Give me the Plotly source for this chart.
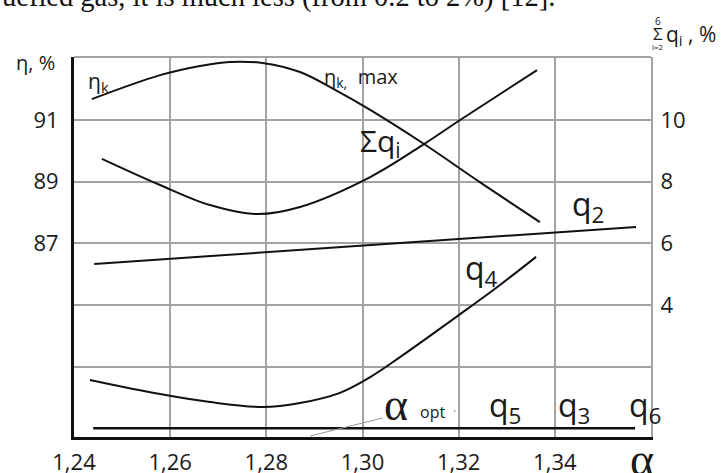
import plotly.graph_objects as go

# alpha (excess air ratio) axis
x_ticks = [1.24, 1.26, 1.28, 1.30, 1.32, 1.34]
x_tick_labels = ["1,24", "1,26", "1,28", "1,30", "1,32", "1,34"]

# left axis: boiler efficiency, %
eta_ticks = [87, 89, 91]
eta_alpha = [1.2437, 1.2579, 1.2662, 1.2724, 1.2795, 1.2870, 1.2943, 1.3016, 1.3128, 1.3244, 1.3369]
eta_k = [91.68, 92.46, 92.76, 92.89, 92.85, 92.56, 91.98, 91.33, 90.22, 88.98, 87.68]

# right axis: heat losses, %
q_ticks = [2, 4, 6, 8, 10]
q_tick_labels = ["", "4", "6", "8", "10"]

sum_q_alpha = [1.2458, 1.2579, 1.2683, 1.2781, 1.2870, 1.3016, 1.3128, 1.3203, 1.3363]
sum_q = [8.74, 7.89, 7.24, 6.95, 7.18, 8.15, 9.22, 10.0, 11.62]

q2_alpha = [1.2442, 1.3569]
q2 = [5.33, 6.53]

q4_alpha = [1.2433, 1.2579, 1.2683, 1.2793, 1.2870, 1.2953, 1.3016, 1.3078, 1.3201, 1.3286, 1.3361]
q4 = [1.57, 1.11, 0.85, 0.69, 0.82, 1.15, 1.66, 2.31, 3.68, 4.65, 5.56]

q356_alpha = [1.2440, 1.3567]
q356 = [0.0, 0.0]

# leader line for alpha_opt
aopt_alpha = [1.2891, 1.3041]
aopt_q = [-0.25, 0.33]

L, R, T, B = 74, 72, 57, 36
W, H = 723, 473
PW, PH = W - L - R, H - T - B


def px(x):
    return (x - L) / PW


def py(y):
    return (H - B - y) / PH


def lab(x, y, text, size, family="Open Sans", xanchor="center", color="#1a1a1a"):
    return dict(
        x=px(x), y=py(y), xref="paper", yref="paper", text=text,
        showarrow=False, xanchor=xanchor, yanchor="middle",
        font=dict(size=size, family=family, color=color),
    )


line = dict(color="#111111", width=2)

fig = go.Figure()
fig.add_trace(go.Scatter(x=eta_alpha, y=eta_k, mode="lines", line=dict(shape="spline", **line),
                         yaxis="y", showlegend=False))
fig.add_trace(go.Scatter(x=sum_q_alpha, y=sum_q, mode="lines", line=dict(shape="spline", **line),
                         yaxis="y2", showlegend=False))
fig.add_trace(go.Scatter(x=q2_alpha, y=q2, mode="lines", line=line, yaxis="y2", showlegend=False))
fig.add_trace(go.Scatter(x=q4_alpha, y=q4, mode="lines", line=dict(shape="spline", **line),
                         yaxis="y2", showlegend=False))
fig.add_trace(go.Scatter(x=q356_alpha, y=q356, mode="lines", line=dict(color="#111111", width=2.5),
                         yaxis="y2", showlegend=False))
fig.add_trace(go.Scatter(x=aopt_alpha, y=aopt_q, mode="lines", line=dict(color="#999999", width=1),
                         yaxis="y2", showlegend=False, cliponaxis=False))

tick_font = dict(size=22, family="Open Sans", color="#1a1a1a")
grid = "#a3a3a3"

fig.update_layout(
    width=W, height=H,
    margin=dict(l=L, r=R, t=T, b=B, autoexpand=False),
    paper_bgcolor="white", plot_bgcolor="white",
    xaxis=dict(
        range=[1.24, 1.36], tickvals=x_ticks, ticktext=x_tick_labels, automargin=False,
        showgrid=True, gridcolor=grid, gridwidth=1.5, zeroline=False,
        showline=True, linecolor="#111111", linewidth=3,
        ticks="outside", ticklen=4, tickcolor="rgba(0,0,0,0)", tickfont=tick_font,
    ),
    yaxis=dict(
        range=[80.69, 93.05], tickvals=eta_ticks, showgrid=False, zeroline=False, automargin=False,
        showline=True, linecolor="#111111", linewidth=3,
        ticks="outside", ticklen=8, tickcolor="rgba(0,0,0,0)", tickfont=tick_font,
    ),
    yaxis2=dict(
        range=[-0.282, 12.043], tickvals=q_ticks, ticktext=q_tick_labels, automargin=False,
        overlaying="y", side="right", showgrid=True, gridcolor=grid, gridwidth=1.5,
        zeroline=False, showline=True, linecolor=grid, linewidth=2,
        ticks="outside", ticklen=3, tickcolor="rgba(0,0,0,0)", tickfont=tick_font,
    ),
    shapes=[dict(type="line", xref="paper", yref="paper", x0=0, x1=1, y0=1, y1=1,
                 line=dict(color=grid, width=2))],
    annotations=[
        lab(0, -3, "uefied gas, it is much less (from 0.2 to 2%) [12].", 28.5,
            family="Liberation Serif", xanchor="left", color="#111111"),
        lab(35, 62, "η, %", 20),
        lab(98, 82, "η<sub>k</sub>", 21),
        lab(361, 77, "η<sub>k,</sub>  max", 20),
        lab(380, 142, "Σq<sub>i</sub>", 30),
        lab(588, 206, "q<sub>2</sub>", 32),
        lab(481, 270, "q<sub>4</sub>", 32),
        lab(396, 404, "α", 46, family="Liberation Serif"),
        lab(432, 412, "opt", 16),
        lab(454, 411, "·", 12, color="#777777"),
        lab(505, 407, "q<sub>5</sub>", 32),
        lab(574, 407, "q<sub>3</sub>", 32),
        lab(645, 407, "q<sub>6</sub>", 32),
        lab(642, 459, "α", 46, family="Liberation Serif"),
        lab(658, 34, "Σ", 17),
        lab(658, 21, "6", 10),
        lab(658, 46, "i=2", 8),
        lab(664, 35, "q<sub>i</sub> , %", 21, xanchor="left"),
    ],
)

# the page body has an 8px default margin; drop it so the figure sits at the window corner
fig.write_html(
    "out.html",
    config={"displayModeBar": False},
    post_script="document.body.style.margin='0';document.body.style.overflow='hidden';",
)
